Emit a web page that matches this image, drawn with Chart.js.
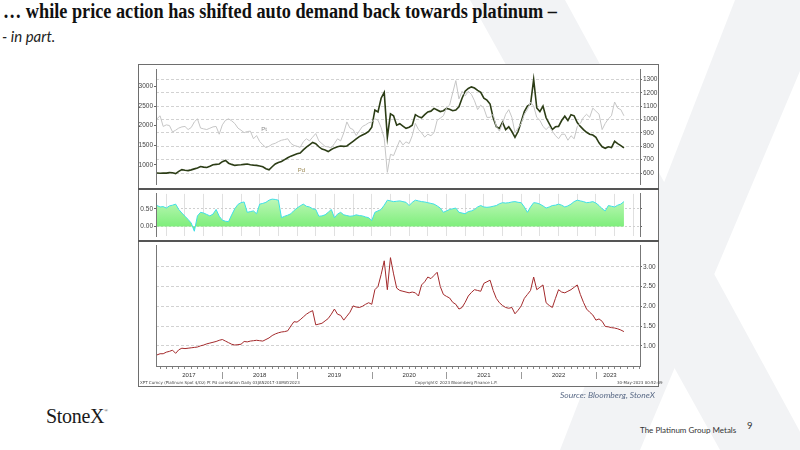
<!DOCTYPE html>
<html>
<head>
<meta charset="utf-8">
<script src="https://cdn.jsdelivr.net/npm/chart.js@4.4.1/dist/chart.umd.min.js"></script>
<style>
  html, body { margin: 0; padding: 0; }
  body { width: 800px; height: 450px; position: relative; overflow: hidden; background: #fff; }
  #mark { position: absolute; left: 0; top: 0; }
  .txt { position: absolute; white-space: nowrap; }
  #title { left: 3px; top: 0px; font: bold 20px "Liberation Serif", serif; color: #111; transform-origin: 0 0; }
  #sub { left: 2px; top: 27px; font: italic 15px Lato, sans-serif; color: #222; }
  #frame { position: absolute; left: 138px; top: 64px; width: 519px; height: 321px; border: 1px solid #6e6e6e; background: #fff; }
  canvas.panel { position: absolute; left: 138px; }
  .divider { position: absolute; left: 138px; width: 521px; height: 2px; background: #555; }
  .foot { position: absolute; top: 380px; font: 4px "DejaVu Sans", sans-serif; color: #444; white-space: nowrap; }
  #source { left: 560px; top: 390px; font: italic 8.5px Lato, sans-serif; color: #5a6a86; }
  #logo { left: 46px; top: 405px; font: 20px "Liberation Serif", serif; color: #1a1a1a; letter-spacing: -0.3px; }
  #logo sup { font-size: 5px; vertical-align: 11px; }
  #pgm { left: 640px; top: 425px; font: 8px Lato, sans-serif; color: #333; }
  #page { left: 747px; top: 420px; font: 9.5px Lato, sans-serif; color: #333; }
</style>
</head>
<body>
<svg id="mark" width="800" height="450">
  <polygon points="470,0 565,0 810,450 720,450" fill="#f2f3f5"/>
  <polygon points="735,0 830,0 640,450 560,450" fill="#f2f3f5"/>
</svg>

<div class="txt" id="title">… while price action has shifted auto demand back towards platinum –</div>
<div class="txt" id="sub">- in part.</div>

<div id="frame"></div>
<canvas class="panel" id="c1" width="520" height="124" style="top:65px"></canvas>
<canvas class="panel" id="c2" width="520" height="52" style="top:189px"></canvas>
<canvas class="panel" id="c3" width="520" height="145" style="top:241px"></canvas>
<div class="divider" style="top:188px"></div>
<div class="divider" style="top:240px"></div>

<div class="foot" style="left:140px">XPT Curncy (Platinum Spot  $/Oz) Pt Pd correlation  Daily 03JAN2017-30MAY2023</div>
<div class="foot" style="left:415px">Copyright© 2023 Bloomberg Finance L.P.</div>
<div class="foot" style="left:617px">30-May-2023 00:52:09</div>

<div class="txt" id="source">Source: Bloomberg, StoneX</div>
<div class="txt" id="logo">StoneX<sup>®</sup></div>
<div class="txt" id="pgm">The Platinum Group Metals</div>
<div class="txt" id="page">9</div>

<script>
// semi-monthly observations, first one mid Feb 2017, last one end of May 2023
const firstObs = 2017.125;
const obsPerYear = 24;

// Palladium spot, $/oz (left axis, top panel)
const pdValues = [
  788, 785, 790, 786, 800, 795, 775, 830, 875, 860, 851, 870, 895, 920, 955, 940, 930, 960, 1000, 1010,
  1020, 1080, 1110, 1040, 1010, 984, 995, 1000, 1010, 1020, 1000, 990, 985, 970, 950, 900, 870, 950, 1020, 1060,
  1086, 1130, 1180, 1220, 1250, 1280, 1300, 1380, 1450, 1510, 1570, 1540, 1460, 1400, 1376, 1337, 1390, 1431, 1460, 1478,
  1470, 1480, 1540, 1600, 1660, 1720, 1760, 1800, 1850, 1960, 2400, 2350, 2700, 2850, 1700, 2300, 2250, 2010, 2050, 1990,
  1930, 1960, 2010, 2280, 2230, 2200, 2280, 2350, 2370, 2440, 2400, 2360, 2380, 2440, 2420, 2380, 2400, 2480, 2700, 2880,
  2950, 2990, 2960, 2900, 2850, 2700, 2650, 2550, 2200, 1970, 1930, 2090, 1900, 1970, 1850, 1700, 1850, 2100, 2360, 2500,
  2550, 3180, 2450, 2360, 2500, 2200, 2050, 1900, 1970, 1980, 2130, 2240, 2130, 2280, 2250, 2080, 1980, 1900, 1830, 1780,
  1760, 1700, 1560, 1460, 1420, 1460, 1440, 1600, 1540, 1490, 1430
];

// Platinum spot, $/oz (right axis, top panel)
const ptValues = [
  1005, 1028, 948, 960, 955, 907, 920, 936, 945, 948, 925, 940, 982, 1005, 936, 930, 925, 935, 945, 948,
  890, 960, 994, 1005, 990, 970, 936, 920, 902, 910, 913, 856, 880, 835, 811, 790, 800, 815, 822, 835,
  845, 850, 856, 822, 806, 800, 792, 833, 856, 840, 868, 895, 840, 820, 799, 795, 788, 820, 856, 840,
  900, 982, 936, 925, 880, 915, 948, 960, 975, 982, 1005, 995, 940, 860, 605, 740, 730, 788, 845, 810,
  833, 820, 879, 971, 925, 900, 868, 890, 879, 902, 994, 1010, 1028, 1085, 1108, 1200, 1291, 1154, 1211, 1177,
  1211, 1188, 1140, 1074, 1108, 1085, 1016, 1016, 1039, 948, 913, 971, 1039, 1074, 1016, 902, 936, 971, 1039, 1074,
  1131, 1100, 1016, 994, 948, 925, 948, 913, 880, 856, 890, 890, 845, 879, 856, 948, 971, 1016, 1039, 1016,
  1085, 1062, 1040, 925, 971, 1005, 1028, 1131, 1085, 1074, 1028
];

// Pt/Pd correlation (middle panel)
const corrValues = [
  0.59, 0.55, 0.56, 0.52, 0.58, 0.60, 0.63, 0.48, 0.38, 0.29, 0.20, 0.10, -0.13, 0.30, 0.40, 0.38, 0.34, 0.30, 0.35, 0.48,
  0.29, 0.18, 0.15, 0.14, 0.33, 0.50, 0.62, 0.67, 0.69, 0.40, 0.42, 0.44, 0.36, 0.63, 0.65, 0.68, 0.74, 0.77, 0.76, 0.74,
  0.25, 0.29, 0.32, 0.36, 0.45, 0.52, 0.58, 0.63, 0.57, 0.55, 0.50, 0.48, 0.29, 0.30, 0.33, 0.40, 0.48, 0.25, 0.35, 0.40,
  0.33, 0.31, 0.29, 0.30, 0.33, 0.31, 0.30, 0.27, 0.25, 0.17, 0.40, 0.44, 0.48, 0.60, 0.74, 0.72, 0.70, 0.71, 0.72, 0.70,
  0.68, 0.59, 0.68, 0.74, 0.72, 0.70, 0.69, 0.67, 0.65, 0.63, 0.58, 0.52, 0.40, 0.44, 0.48, 0.50, 0.52, 0.40, 0.38, 0.36,
  0.42, 0.44, 0.48, 0.55, 0.59, 0.55, 0.54, 0.55, 0.57, 0.59, 0.64, 0.67, 0.66, 0.67, 0.69, 0.70, 0.68, 0.67, 0.55, 0.40,
  0.55, 0.67, 0.66, 0.63, 0.58, 0.52, 0.55, 0.59, 0.60, 0.63, 0.60, 0.55, 0.58, 0.63, 0.70, 0.74, 0.72, 0.70, 0.67, 0.68,
  0.70, 0.66, 0.59, 0.50, 0.44, 0.59, 0.57, 0.55, 0.60, 0.63, 0.70
];

// Pd/Pt price ratio (bottom panel)
const ratioValues = [
  0.77, 0.80, 0.80, 0.84, 0.86, 0.89, 0.81, 0.90, 0.94, 0.93, 0.94, 0.95, 0.96, 0.97, 1.00, 1.02, 1.05, 1.07, 1.09, 1.11,
  1.14, 1.16, 1.12, 1.08, 1.04, 1.02, 1.03, 1.04, 1.11, 1.10, 1.12, 1.13, 1.14, 1.13, 1.12, 1.16, 1.20, 1.26, 1.30, 1.33,
  1.35, 1.36, 1.38, 1.50, 1.61, 1.60, 1.66, 1.73, 1.80, 1.85, 1.89, 1.53, 1.55, 1.57, 1.63, 1.69, 1.80, 1.93, 1.80, 1.77,
  1.65, 1.75, 1.85, 2.01, 1.98, 1.97, 2.00, 2.05, 2.09, 2.05, 2.42, 2.50, 2.80, 3.15, 2.42, 3.23, 2.82, 2.46, 2.40, 2.38,
  2.36, 2.34, 2.36, 2.34, 2.26, 2.54, 2.62, 2.74, 2.70, 2.78, 2.86, 2.50, 2.30, 2.25, 2.21, 2.10, 2.05, 1.93, 1.97, 2.10,
  2.26, 2.35, 2.42, 2.40, 2.38, 2.58, 2.62, 2.66, 2.40, 2.20, 2.09, 2.02, 1.97, 1.95, 1.97, 1.81, 1.90, 2.01, 2.20, 2.30,
  2.40, 2.74, 2.42, 2.48, 2.54, 2.09, 2.02, 1.97, 2.20, 2.42, 2.36, 2.34, 2.38, 2.42, 2.48, 2.54, 2.30, 2.10, 1.93, 1.85,
  1.78, 1.65, 1.68, 1.62, 1.49, 1.48, 1.46, 1.45, 1.43, 1.40, 1.36
];

const years = [2017, 2018, 2019, 2020, 2021, 2022, 2023];
const pdTicks = [1000, 1500, 2000, 2500, 3000];
const ptTicks = [600, 700, 800, 900, 1000, 1100, 1200, 1300];
const corrTicks = [0, 0.5];
const ratioTicks = [1, 1.5, 2, 2.5, 3];
const seriesLabels = [
  { text: "Pt", x: 2018.52, y: 930, axis: "yR", color: "#8a8a8a" },
  { text: "Pd", x: 2019.01, y: 860, axis: "yL", color: "#9c8a55" },
];

const xMin = 2017.112, xMax = 2023.59;
const toPoints = arr => arr.map((v, i) => ({ x: firstObs + i / obsPerYear, y: v }));
const lastX = firstObs + (pdValues.length - 1) / obsPerYear;

const tickFont = { family: "Liberation Sans", size: 6.5 };
const fixWidth = w => scale => { scale.width = w; };
const setTicks = list => scale => { scale.ticks = list.map(v => ({ value: v })); };
const plain = v => String(v);
const twoDec = v => v.toFixed(2);

const base = {
  responsive: false,
  animation: false,
  devicePixelRatio: 1,
  layout: { padding: 0 },
  plugins: { legend: { display: false }, tooltip: { enabled: false } },
  elements: { point: { radius: 0 }, line: { tension: 0 } },
};

// small text labels next to the lines in the top panel
const seriesLabelPlugin = {
  id: "seriesLabels",
  afterDatasetsDraw(chart) {
    const ctx = chart.ctx;
    ctx.save();
    ctx.font = "6px 'Liberation Sans'";
    ctx.textAlign = "left";
    ctx.textBaseline = "middle";
    seriesLabels.forEach(l => {
      ctx.fillStyle = l.color;
      ctx.fillText(l.text, chart.scales.x.getPixelForValue(l.x), chart.scales[l.axis].getPixelForValue(l.y));
    });
    ctx.restore();
  }
};

new Chart(document.getElementById("c1"), {
  type: "line",
  data: {
    datasets: [
      { data: toPoints(ptValues), yAxisID: "yR", borderColor: "#c6c6c6", borderWidth: 1 },
      { data: toPoints(pdValues), yAxisID: "yL", borderColor: "#2c3d16", borderWidth: 1.6 },
    ]
  },
  options: {
    ...base,
    scales: {
      x: { type: "linear", min: xMin, max: xMax, display: false },
      yL: {
        position: "left", min: 506, max: 3424,
        afterBuildTicks: setTicks(pdTicks), afterFit: fixWidth(18),
        grid: { drawOnChartArea: false, tickLength: 2, tickColor: "#666" },
        border: { color: "#777" },
        ticks: { font: tickFont, color: "#444", padding: 1, autoSkip: false, callback: plain }
      },
      yR: {
        position: "right", min: 517, max: 1371,
        afterBuildTicks: setTicks(ptTicks), afterFit: fixWidth(18),
        grid: { color: "#d2d2d2", tickLength: 2, tickColor: "#666" },
        border: { color: "#777", dash: [3, 2] },
        ticks: { font: tickFont, color: "#444", padding: 1, autoSkip: false, callback: plain }
      }
    }
  },
  plugins: [seriesLabelPlugin]
});

new Chart(document.getElementById("c2"), {
  type: "line",
  data: {
    datasets: [{
      data: toPoints(corrValues),
      borderColor: "#3fdfe6",
      borderWidth: 1,
      fill: "origin",
      backgroundColor: (c) => {
        const chart = c.chart;
        if (!chart.chartArea) return "#9ff29a";
        const y0 = chart.scales.y.getPixelForValue(0);
        const g = chart.ctx.createLinearGradient(0, chart.chartArea.top, 0, y0);
        g.addColorStop(0, "#c8f9c2");
        g.addColorStop(1, "#7eee7b");
        return g;
      }
    }]
  },
  options: {
    ...base,
    scales: {
      x: {
        type: "linear", min: xMin, max: xMax, position: "bottom",
        afterBuildTicks: scale => {
          const t = [];
          for (let q = 2017.25; q <= 2023.5; q += 0.25) t.push({ value: q });
          scale.ticks = t;
        },
        afterFit: scale => { scale.height = 0; },
        ticks: { display: false },
        grid: { color: "#e0e0e0", drawTicks: false },
        border: { display: false }
      },
      y: {
        position: "left", min: -0.266, max: 0.916,
        afterBuildTicks: setTicks(corrTicks), afterFit: fixWidth(18),
        grid: { color: "#cfcfcf", tickLength: 2, tickColor: "#666" },
        border: { color: "#777", dash: [2, 2] },
        ticks: { font: tickFont, color: "#444", padding: 1, autoSkip: false, callback: twoDec }
      },
      y2: {
        position: "right", min: -0.266, max: 0.916,
        afterBuildTicks: setTicks(corrTicks), afterFit: fixWidth(18),
        grid: { drawOnChartArea: false, tickLength: 2, tickColor: "#666" },
        border: { color: "#777" },
        ticks: { display: false }
      }
    }
  }
});

// year labels and separators under the bottom panel
const yearAxisPlugin = {
  id: "yearAxis",
  afterDraw(chart) {
    const ctx = chart.ctx;
    const xs = chart.scales.x;
    const bottom = chart.chartArea.bottom;
    const dataStart = firstObs - 0.5 / obsPerYear;
    ctx.save();
    ctx.font = "6px 'Liberation Sans'";
    ctx.fillStyle = "#333";
    ctx.textAlign = "center";
    ctx.textBaseline = "middle";
    years.forEach(y => {
      const a = Math.max(y, dataStart), b = Math.min(y + 1, lastX);
      ctx.fillText(String(y), (xs.getPixelForValue(a) + xs.getPixelForValue(b)) / 2, bottom + 9.5);
      if (y > years[0]) {
        const px = Math.round(xs.getPixelForValue(y)) + 0.5;
        ctx.strokeStyle = "#9a9a9a";
        ctx.lineWidth = 1;
        ctx.beginPath();
        ctx.moveTo(px, bottom + 6);
        ctx.lineTo(px, bottom + 13);
        ctx.stroke();
      }
    });
    ctx.restore();
  }
};

new Chart(document.getElementById("c3"), {
  type: "line",
  data: {
    datasets: [{ data: toPoints(ratioValues), borderColor: "#a3292b", borderWidth: 1 }]
  },
  options: {
    ...base,
    scales: {
      x: {
        type: "linear", min: xMin, max: xMax, position: "bottom",
        afterBuildTicks: scale => {
          const t = [];
          for (let m = 2017 + 2 / 12; m < xMax; m += 1 / 12) t.push({ value: m });
          scale.ticks = t;
        },
        afterFit: scale => { scale.height = 20; },
        ticks: { display: false },
        grid: { drawOnChartArea: false, tickLength: 3, tickColor: "#888" },
        border: { color: "#777" }
      },
      y: {
        position: "right", min: 0.49, max: 3.527,
        afterBuildTicks: setTicks(ratioTicks), afterFit: fixWidth(18),
        grid: { color: "#d2d2d2", tickLength: 2, tickColor: "#666" },
        border: { color: "#777", dash: [3, 2] },
        ticks: { font: tickFont, color: "#444", padding: 1, autoSkip: false, callback: twoDec }
      },
      yl: {
        position: "left", min: 0.49, max: 3.527,
        afterBuildTicks: setTicks([]), afterFit: fixWidth(18),
        grid: { drawOnChartArea: false },
        border: { color: "#777" },
        ticks: { display: false }
      }
    }
  },
  plugins: [yearAxisPlugin]
});

// squeeze the title to the width it has on the slide
const title = document.getElementById("title");
title.style.transform = "scaleX(" + (554 / title.getBoundingClientRect().width) + ")";
</script>
</body>
</html>
